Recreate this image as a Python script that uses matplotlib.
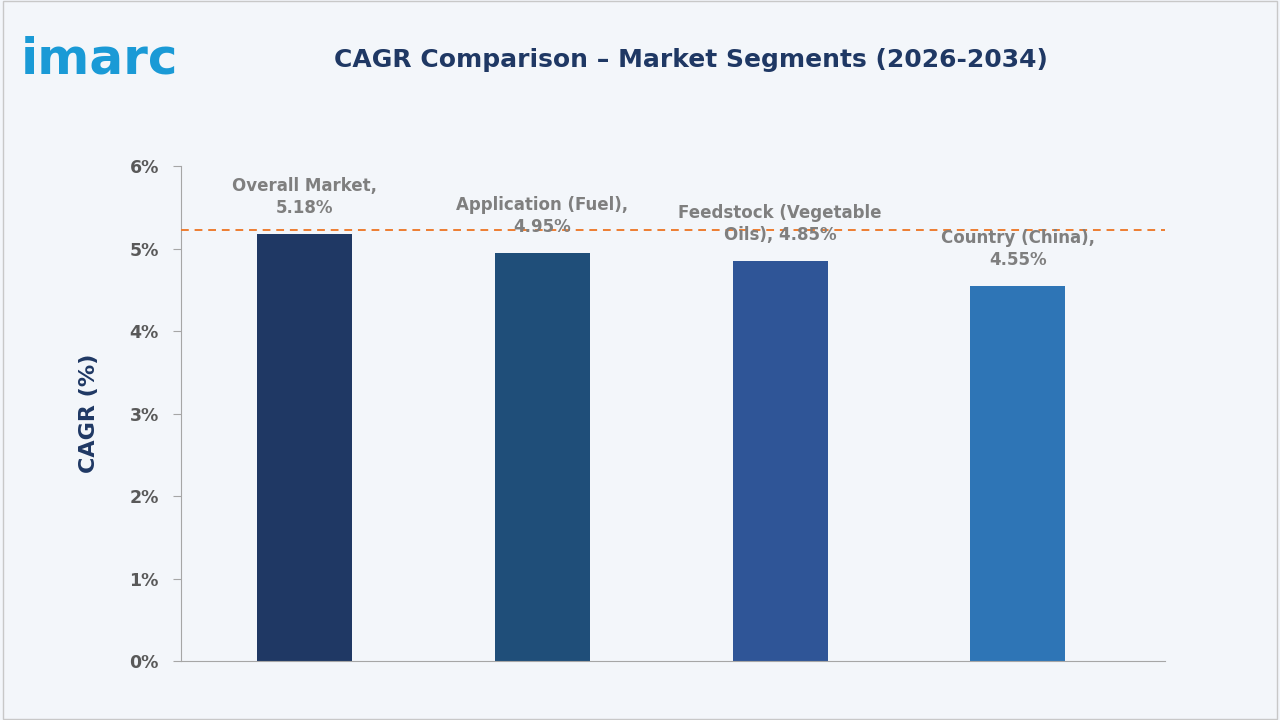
import matplotlib.pyplot as plt
from matplotlib.patches import Rectangle

categories = ["Overall Market,\n5.18%", "Application (Fuel),\n4.95%",
              "Feedstock (Vegetable\nOils), 4.85%", "Country (China),\n4.55%"]
values = [5.18, 4.95, 4.85, 4.55]
colors = ["#1f3864", "#1f4e79", "#2f5597", "#2e75b6"]
ref_line = 5.22
yticks = [0, 1, 2, 3, 4, 5, 6]

fig = plt.figure(figsize=(12.8, 7.2), dpi=100)
bg = "#f3f6fa"
fig.patch.set_facecolor(bg)
fig.patches.append(Rectangle((0.002, 0.002), 0.996, 0.996, transform=fig.transFigure,
                             fill=False, edgecolor="#c8c8c8", lw=1))

ax = fig.add_axes([0.1414, 0.0819, 0.769, 0.6875])
ax.set_facecolor(bg)
x = range(len(values))
ax.bar(x, values, width=0.4, color=colors, zorder=2)
ax.axhline(ref_line, color="#ed7d31", ls=(0, (4, 3)), lw=1.4, zorder=3)
ax.set_xlim(-0.52, 3.62)
ax.set_ylim(0, 6)
ax.set_yticks(yticks)
ax.set_yticklabels([f"{t}%" for t in yticks], fontsize=12.5, color="#595959",
                   fontweight="bold")
ax.set_xticks([])
for s in ["top", "right"]:
    ax.spines[s].set_visible(False)
for s in ["left", "bottom"]:
    ax.spines[s].set_color("#a6a6a6")
ax.tick_params(axis="y", length=6, color="#a6a6a6", pad=10)
ax.set_ylabel("CAGR (%)", fontsize=16, fontweight="bold", color="#1f3864", labelpad=22)

for i, (v, lab) in enumerate(zip(values, categories)):
    ax.text(i, v + 0.2, lab, ha="center", va="bottom", fontsize=12,
            color="#7f7f7f", fontweight="bold", linespacing=1.3)

fig.text(0.54, 0.917, "CAGR Comparison \u2013 Market Segments (2026-2034)",
         ha="center", va="center", fontsize=18, fontweight="bold", color="#1f3864")
fig.text(0.016, 0.918, "imarc", ha="left", va="center", fontsize=36,
         fontweight="bold", color="#1a9ad6")

fig.savefig("out.png", dpi=100, facecolor=bg)
